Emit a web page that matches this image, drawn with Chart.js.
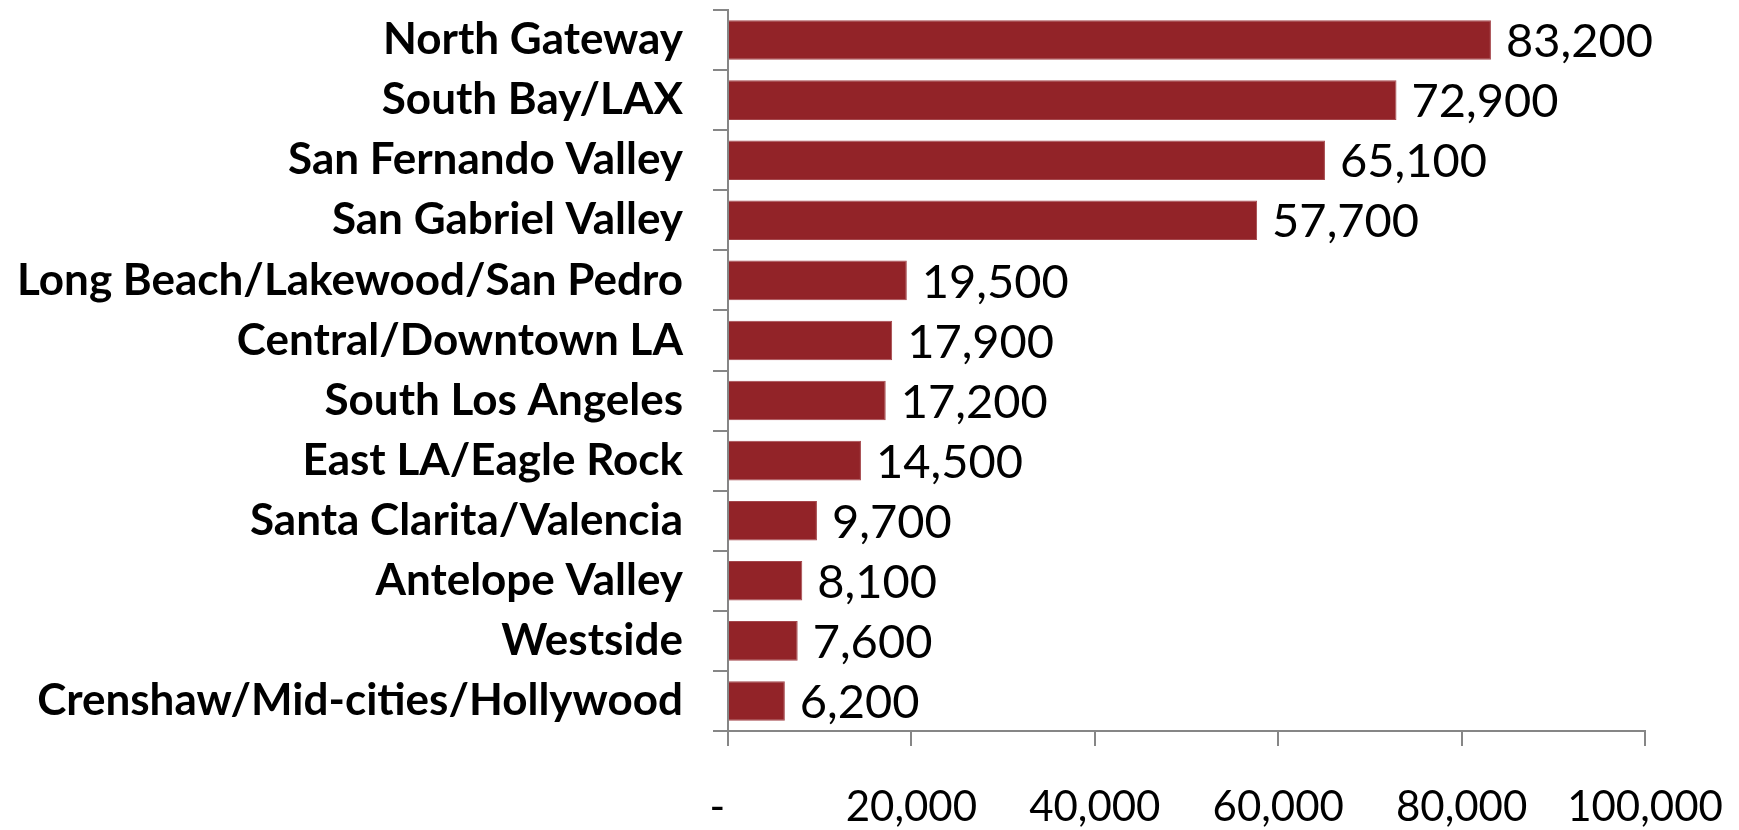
<!DOCTYPE html>
<html lang="en">
<head>
  <meta charset="UTF-8">
  <script src="https://cdn.jsdelivr.net/npm/chart.js"></script>
  <title>Regions</title>
  <style>
    html, body { margin: 0; padding: 0; background: #fff; }
    #wrap { width: 1739px; height: 830px; }
  </style>
</head>
<body>
  <div id="wrap"><canvas id="barChart"></canvas></div>

  <script>
    const regions = [
      "North Gateway", "South Bay/LAX", "San Fernando Valley", "San Gabriel Valley",
      "Long Beach/Lakewood/San Pedro", "Central/Downtown LA", "South Los Angeles",
      "East LA/Eagle Rock", "Santa Clarita/Valencia", "Antelope Valley", "Westside",
      "Crenshaw/Mid-cities/Hollywood"
    ];
    const counts = [83200, 72900, 65100, 57700, 19500, 17900, 17200, 14500, 9700, 8100, 7600, 6200];
    const xTicks = [0, 20000, 40000, 60000, 80000, 100000];

    // zero shows as a dash, like accounting format
    const fmt = v => v === 0 ? "-" : v.toLocaleString("en-US");

    // draws the value next to each bar
    const valueLabels = {
      id: "valueLabels",
      afterDatasetsDraw(chart) {
        const ctx = chart.ctx;
        ctx.save();
        ctx.font = "47px Lato";
        ctx.fillStyle = "#000";
        ctx.textBaseline = "middle";
        chart.getDatasetMeta(0).data.forEach((bar, i) => {
          ctx.fillText(fmt(counts[i]), bar.x + 15, bar.y + 2);
        });
        ctx.restore();
      }
    };

    new Chart(document.getElementById("barChart"), {
      type: "bar",
      data: {
        labels: regions,
        datasets: [{
          data: counts,
          backgroundColor: "#922328",
          borderColor: "#a5474c",
          borderWidth: 1,
          categoryPercentage: 1,
          barPercentage: 0.66
        }]
      },
      options: {
        indexAxis: "y",
        responsive: true,
        maintainAspectRatio: false,
        animation: false,
        layout: { padding: { top: 10, right: 94, left: 0, bottom: 0 } },
        plugins: { legend: { display: false }, tooltip: { enabled: false } },
        scales: {
          x: {
            min: 0, max: 100000,
            afterBuildTicks: s => { s.ticks = xTicks.map(v => ({ value: v })); },
            afterFit: s => { s.height = 99; s.paddingLeft = 0; s.paddingRight = 0; },
            border: { color: "#868686", width: 2 },
            grid: { drawOnChartArea: false, color: "#868686", lineWidth: 2, tickLength: 15 },
            ticks: {
              callback: v => v === 0 ? "-  " : fmt(v),
              color: "#000",
              padding: 36,
              maxRotation: 0,
              font: { family: "Lato", size: 42 }
            }
          },
          y: {
            afterFit: s => { s.width = 728; s.paddingTop = 0; s.paddingBottom = 0; },
            border: { color: "#868686", width: 2 },
            grid: { drawOnChartArea: false, offset: true, color: "#868686", lineWidth: 2, tickLength: 15 },
            ticks: {
              color: "#000",
              padding: 30,
              font: { family: "Lato", size: 44, weight: "bold" }
            }
          }
        }
      },
      plugins: [valueLabels]
    });
  </script>
</body>
</html>
